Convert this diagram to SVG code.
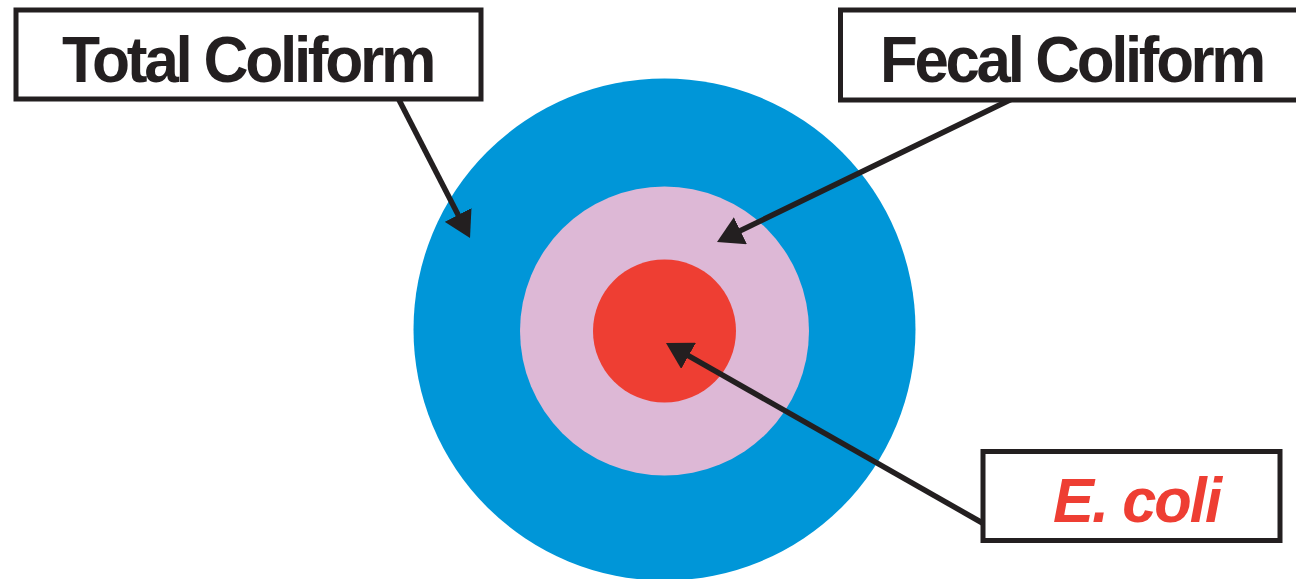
<svg xmlns="http://www.w3.org/2000/svg" width="1296" height="579" viewBox="0 0 1296 579">
<style>
.box{fill:#fff;stroke:#231f20;stroke-width:5}
.lbl{font-family:"Liberation Sans",Arial,sans-serif;font-weight:bold;font-size:65px;letter-spacing:-3.5px;fill:#231f20}
.eco{font-family:"Liberation Sans",Arial,sans-serif;font-weight:bold;font-style:italic;font-size:63px;letter-spacing:-2px;fill:#ee3e33}
.conn{stroke:#231f20;stroke-width:5.5;fill:none;marker-end:url(#ah)}
</style>
<defs>
<marker id="ah" viewBox="0 0 26 30" refX="10" refY="15" markerWidth="26" markerHeight="30" markerUnits="userSpaceOnUse" orient="auto">
<path d="M0,0 L26,15 L0,30 Z" fill="#231f20"/>
</marker>
</defs>
<rect width="1296" height="579" fill="#fff"/>
<g id="rings">
<circle id="total-ring" cx="664.5" cy="329.5" r="251" fill="#0096d8"/>
<circle id="fecal-ring" cx="664.5" cy="331" r="144.5" fill="#ddb8d6"/>
<circle id="ecoli-ring" cx="664.5" cy="331" r="71.5" fill="#ee3e33"/>
</g>
<g id="connectors">
<path class="conn" d="M397,96 L462.7,223.8"/>
<path class="conn" d="M1016,97 L731.4,235"/>
<path class="conn" d="M986,525 L679.9,350.9"/>
</g>
<g id="total-coliform">
<rect class="box" x="16" y="10" width="465" height="89"/>
<text class="lbl" x="62" y="82" textLength="371" lengthAdjust="spacingAndGlyphs">Total Coliform</text>
</g>
<g id="fecal-coliform">
<rect class="box" x="840.5" y="10" width="470" height="90"/>
<text class="lbl" x="880" y="82" textLength="383" lengthAdjust="spacingAndGlyphs">Fecal Coliform</text>
</g>
<g id="e-coli">
<rect class="box" x="983" y="451.5" width="297" height="89"/>
<text class="eco" x="1053" y="522" textLength="167" lengthAdjust="spacingAndGlyphs">E. coli</text>
</g>
</svg>
